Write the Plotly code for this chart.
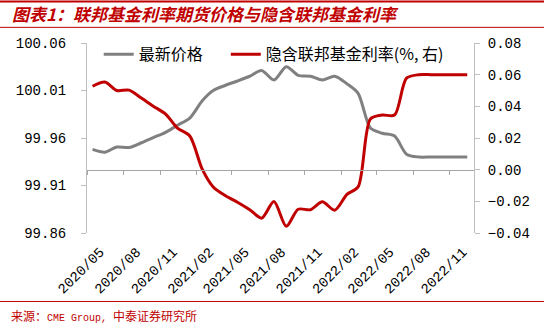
import plotly.graph_objects as go

months = ["2020-05", "2020-06", "2020-07", "2020-08", "2020-09", "2020-10", "2020-11", "2020-12",
          "2021-01", "2021-02", "2021-03", "2021-04", "2021-05", "2021-06", "2021-07", "2021-08",
          "2021-09", "2021-10", "2021-11", "2021-12", "2022-01", "2022-02", "2022-03", "2022-04",
          "2022-05", "2022-06", "2022-07", "2022-08", "2022-09", "2022-10", "2022-11", "2022-12"]
price = [99.948, 99.945, 99.9505, 99.950, 99.955, 99.9605, 99.966, 99.9735,
         99.981, 99.999, 100.010, 100.0155, 100.020, 100.025, 100.031, 100.021,
         100.035, 100.026, 100.025, 100.021, 100.025, 100.017, 100.007, 99.9705,
         99.965, 99.962, 99.943, 99.940, 99.940, 99.940, 99.940, 99.940]
rate = [0.0527, 0.0554, 0.0500, 0.0502, 0.0452, 0.0401, 0.0351, 0.0263,
        0.0213, 0.0005, -0.0109, -0.0165, -0.0206, -0.0253, -0.0306, -0.0201,
        -0.0358, -0.0250, -0.0253, -0.0203, -0.0256, -0.0156, -0.0109, 0.0320,
        0.0345, 0.0345, 0.0578, 0.0600, 0.0600, 0.0600, 0.0600, 0.0600]
tick_months = ["2020-05", "2020-08", "2020-11", "2021-02", "2021-05", "2021-08",
               "2021-11", "2022-02", "2022-05", "2022-08", "2022-11"]
tick_labels = [m.replace("-", "/") for m in tick_months]

name_price = "最新价格"
name_rate = "隐含联邦基金利率(%, 右)"
title_text = "图表1：联邦基金利率期货价格与隐含联邦基金利率"
source_cjk = "来源："
source_latin = "CME Group, "
source_cjk2 = "中泰证券研究所"

W, H = 544, 325
L, R, T, B = 87.3, 474.0, 42.7, 233.3
PW, PH = R - L, B - T


def pxx(p):
    return (p - L) / PW


def pxy(p):
    return (B - p) / PH


x = [m + "-15" for m in months]
RED = "#C00000"
GRAY = "#808080"
AX = "#BFBFBF"
MONO = "Liberation Mono, DejaVu Sans Mono, monospace"
CJK = "Noto Sans CJK SC, Noto Sans, sans-serif"

fig = go.Figure()
fig.add_trace(go.Scatter(x=x, y=price, name=name_price, mode="lines",
                         line=dict(color=GRAY, width=3, shape="spline", smoothing=0.8),
                         yaxis="y", xaxis="x", legend="legend"))
fig.add_trace(go.Scatter(x=x, y=rate, name=name_rate, mode="lines",
                         line=dict(color=RED, width=3, shape="spline", smoothing=0.8),
                         yaxis="y2", xaxis="x", legend="legend2"))
# invisible trace to anchor the crossing category axis
fig.add_trace(go.Scatter(x=[x[0]], y=[rate[0]], mode="lines", showlegend=False,
                         hoverinfo="skip", line=dict(width=0), xaxis="x2", yaxis="y2"))

leg_common = dict(orientation="h", yanchor="top", xanchor="left",
                  font=dict(family=CJK, size=16, color="#000000"),
                  bgcolor="rgba(0,0,0,0)", itemwidth=30)

rng = ["2020-05-01", "2023-01-01"]
fig.update_layout(
    width=W, height=H,
    margin=dict(l=L, r=W - R, t=T, b=H - B),
    paper_bgcolor="white", plot_bgcolor="white",
    showlegend=True,
    legend=dict(x=pxx(99), y=pxy(37), **leg_common),
    legend2=dict(x=pxx(226), y=pxy(37), **leg_common),
    title=dict(text="<b><i>" + title_text + "</i></b>", xref="container", yref="container",
               x=12 / W, y=1 - 15 / H, xanchor="left", yanchor="middle",
               font=dict(family=CJK, size=17, color=RED)),
    xaxis=dict(type="date", range=rng, tickvals=[m + "-01" for m in tick_months],
               ticktext=tick_labels, tickangle=-45, showline=False, ticks="",
               showgrid=False, zeroline=False, ticklabelshift=13, ticklabelstandoff=7,
               tickfont=dict(family=MONO, size=14, color="#000000")),
    xaxis2=dict(type="date", range=rng, tickvals=[m + "-01" for m in tick_months],
                overlaying="x", anchor="free", position=1 / 3, showline=True,
                linecolor="#A6A6A6", linewidth=1, ticks="outside", ticklen=4,
                tickcolor="#A6A6A6", showticklabels=False, showgrid=False, zeroline=False),
    yaxis=dict(range=[99.86, 100.06], dtick=0.05, tick0=99.86, tickformat=".2f",
               showline=True, linecolor=AX, linewidth=1, ticks="outside", ticklen=5,
               tickcolor=AX, showgrid=False, zeroline=False, ticklabelstandoff=12,
               tickfont=dict(family=MONO, size=14, color="#000000")),
    yaxis2=dict(range=[-0.04, 0.08], dtick=0.02, tick0=-0.04, tickformat=".2f",
                overlaying="y", side="right", showline=True, linecolor=AX, linewidth=1,
                ticks="outside", ticklen=5, tickcolor=AX, showgrid=False, zeroline=False,
                ticklabelstandoff=5,
                tickfont=dict(family=MONO, size=14, color="#000000")),
    shapes=[
        dict(type="line", xref="paper", yref="paper", x0=pxx(0), x1=pxx(W), y0=pxy(1), y1=pxy(1),
             line=dict(color=RED, width=2)),
        dict(type="line", xref="paper", yref="paper", x0=pxx(0), x1=pxx(W), y0=pxy(27), y1=pxy(27),
             line=dict(color=RED, width=1)),
        dict(type="line", xref="paper", yref="paper", x0=pxx(0), x1=pxx(W), y0=pxy(302), y1=pxy(302),
             line=dict(color=RED, width=1)),
    ],
    annotations=[
        dict(text=source_cjk + "<span style='font-family:Liberation Mono;font-size:10px'>"
             + source_latin + "</span>" + source_cjk2,
             xref="paper", yref="paper", x=pxx(9), y=pxy(316),
             xanchor="left", yanchor="middle", showarrow=False,
             font=dict(family=CJK, size=12, color=RED)),
    ],
)

fig.write_html("out.html")
